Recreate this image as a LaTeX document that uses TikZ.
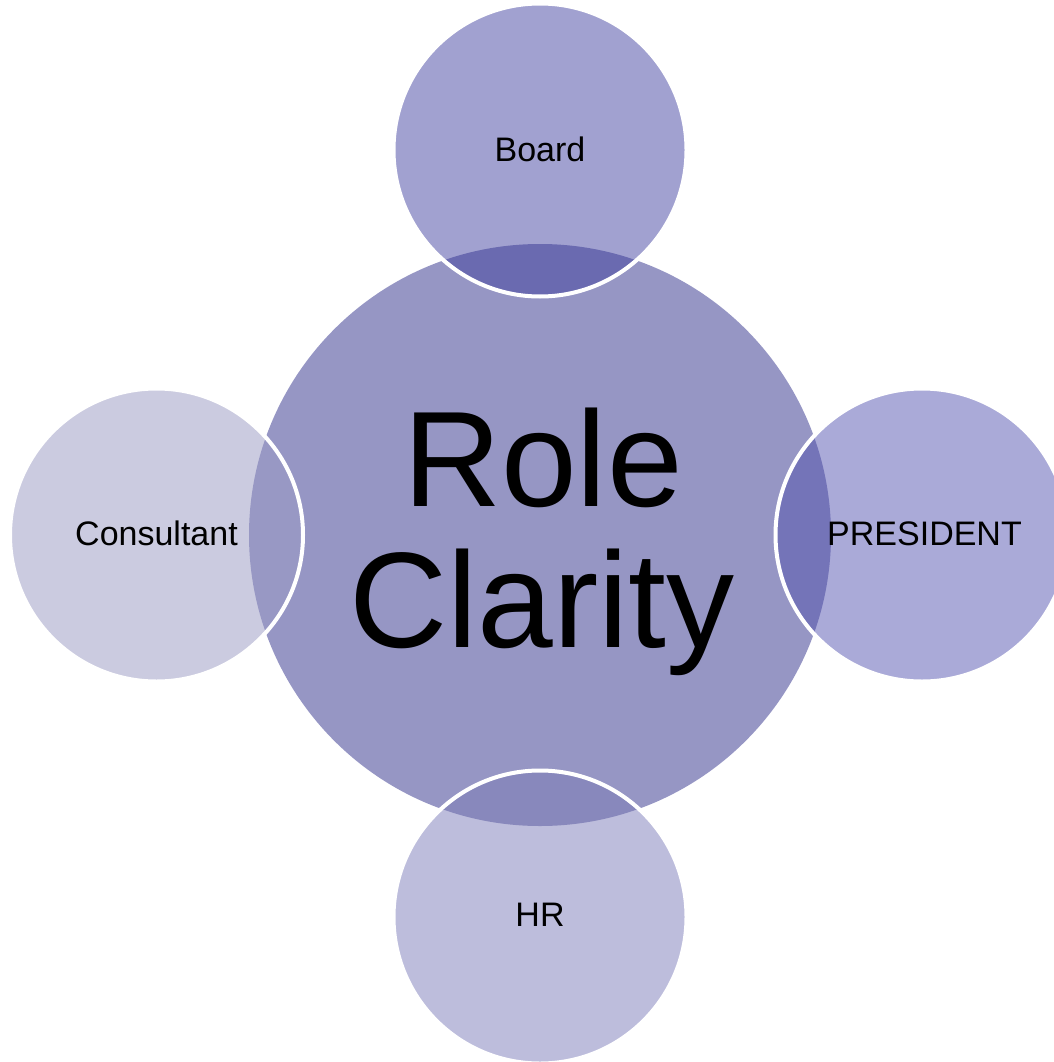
\documentclass[tikz,border=0pt]{standalone}
\usepackage{fontspec}
\setmainfont{Liberation Sans}
\definecolor{hubfill}{RGB}{150,150,196}
\definecolor{boardfill}{RGB}{161,161,208}
\definecolor{boardlens}{RGB}{106,106,176}
\definecolor{presfill}{RGB}{170,170,216}
\definecolor{preslens}{RGB}{116,116,184}
\definecolor{hrfill}{RGB}{189,189,220}
\definecolor{hrlens}{RGB}{136,136,188}
\definecolor{consfill}{RGB}{203,203,224}
\definecolor{conslens}{RGB}{152,152,196}
\tikzset{
  disc/.style={circle, inner sep=0pt, minimum size=293pt},
  hubdisc/.style={circle, inner sep=0pt, minimum size=582pt},
  rim/.style={draw=white, line width=4pt},
  small label/.style={anchor=base, inner sep=0pt, font=\fontsize{34}{40}\selectfont},
  big label/.style={anchor=base, inner sep=0pt, font=\fontsize{136}{141}\selectfont},
}
\begin{document}
\begin{tikzpicture}[x=1pt,y=-1pt]
\useasboundingbox (0,0) rectangle (1053,1062);
% central circle
\node[hubdisc, fill=hubfill] (hub) at (540,535) {};
% satellite circles
\node[disc, fill=boardfill] (board) at (540,150) {};
\node[disc, fill=consfill] (cons) at (156.5,535) {};
\node[disc, fill=presfill] (pres) at (922,535) {};
\node[disc, fill=hrfill] (hr) at (540,917) {};
% overlap lenses with the central circle
\begin{scope}
  \clip (hub.center) circle (291pt);
  \fill[boardlens] (board.center) circle (146.5pt);
  \fill[conslens] (cons.center) circle (146.5pt);
  \fill[preslens] (pres.center) circle (146.5pt);
  \fill[hrlens] (hr.center) circle (146.5pt);
\end{scope}
% white rims of the satellites
\draw[rim] (board.center) circle (146.5pt);
\draw[rim] (cons.center) circle (146.5pt);
\draw[rim] (pres.center) circle (146.5pt);
\draw[rim] (hr.center) circle (146.5pt);
% labels
\node[small label] (boardtext) at (540,161) {Board};
\node[small label] (constext) at (156.5,545) {Consultant};
\node[small label] (prestext) at (924.5,545) {PRESIDENT};
\node[small label] (hrtext) at (540,926) {HR};
\node[big label] (role) at (543,506) {Role};
\node[big label] (clarity) at (542,647) {Clarity};
\end{tikzpicture}
\end{document}
